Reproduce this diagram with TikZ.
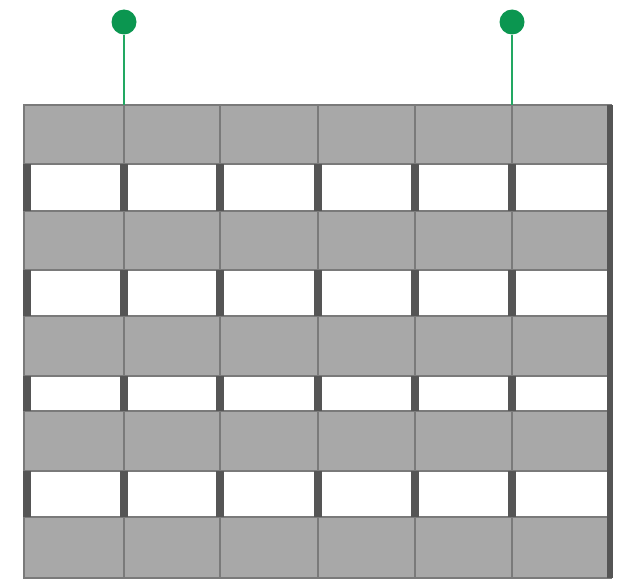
\documentclass[tikz,border=0pt]{standalone}
\definecolor{bandgray}{HTML}{A8A8A8}
\definecolor{linegray}{HTML}{7A7A7A}
\definecolor{postgray}{HTML}{555555}
\definecolor{dotgreen}{HTML}{0B9650}
\definecolor{stemgreen}{HTML}{22A862}
\begin{document}
\begin{tikzpicture}[x=1pt,y=-1pt,
  band/.style={fill=bandgray,draw=linegray,line width=1.6pt},
  thinline/.style={draw=linegray,line width=2pt},
  post/.style={fill=postgray},
  pindot/.style={circle,fill=dotgreen,inner sep=0pt,minimum size=25pt},
  stem/.style={draw=stemgreen,line width=2.8pt}]
\useasboundingbox (0,0) rectangle (623,578);
% gray bands
\foreach \ya/\yb in {105/164,211/270,316/376,411/471,517/578}
  \path[band] (24,\ya) rectangle (611,\yb);
% thin dividers through gray bands
\foreach \x in {124,220,318,415,512}
  \draw[thinline] (\x,105) -- (\x,578);
\draw[thinline] (24,105) -- (24,578);
% white bands with posts
\foreach \ya/\yb in {164/211,270/316,376/411,471/517}{
  \fill[white] (25,\ya+1.2) rectangle (609,\yb-1.2);
  \foreach \x in {124,220,318,415,512}
    \fill[post] (\x-4,\ya) rectangle (\x+4,\yb);
  \fill[post] (23,\ya) rectangle (30.5,\yb);
}
% right edge post
\fill[post] (607,105) rectangle (613,578);
% pins
\node[pindot] (p1) at (124,22) {};
\node[pindot] (p2) at (512,22) {};
\coordinate (a1) at (124,105);
\coordinate (a2) at (512,105);
\draw[stem] (p1) -- (a1);
\draw[stem] (p2) -- (a2);
\end{tikzpicture}
\end{document}
